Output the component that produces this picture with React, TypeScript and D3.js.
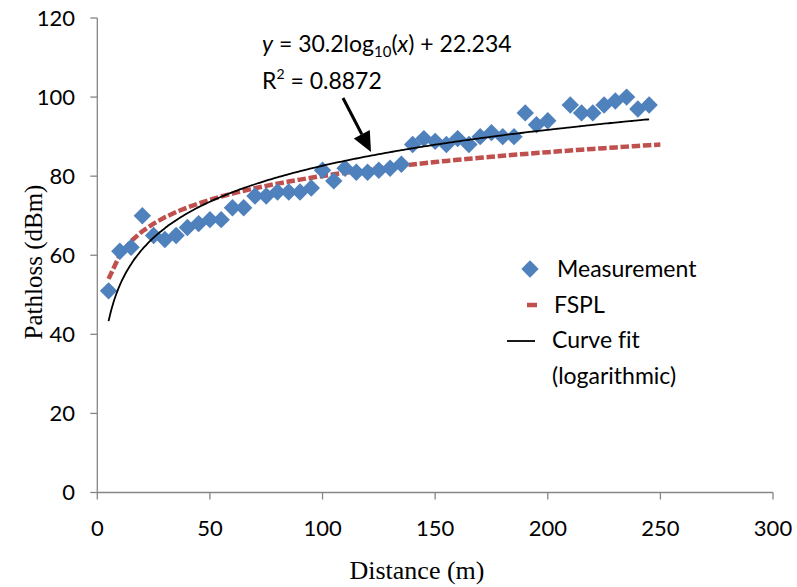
import React from "react";
import * as d3 from "d3";

const distances = [5,10,15,20,25,30,35,40,45,50,55,60,65,70,75,80,85,90,95,100,105,110,115,120,125,130,135,140,145,150,155,160,165,170,175,180,185,190,195,200,210,215,220,225,230,235,240,245];
const measurement = [51,61,62,70,65,64,65,67,68,69,69,72,72,75,75,76,76,76,77,81.5,78.8,82,81,81,81.5,82,83,88,89.5,88.8,88,89.5,88,90,91,90,90,96,93,94,98,96,96,98,99,100,97,98];

const fsplDistances = [5,10,15,20,25,30,35,40,45,50,55,60,65,70,75,80,85,90,95,100,105,110,115,120,125,130,135,140,145,150,155,160,165,170,175,180,185,190,195,200,205,210,215,220,225,230,235,240,245,250];
const fspl = [54.03,60.05,63.57,66.07,68.01,69.59,70.93,72.09,73.11,74.03,74.86,75.61,76.31,76.95,77.55,78.11,78.64,79.13,79.6,80.05,80.47,80.88,81.26,81.63,81.99,82.33,82.66,82.97,83.28,83.57,83.86,84.13,84.4,84.66,84.91,85.16,85.39,85.63,85.85,86.07,86.29,86.49,86.7,86.9,87.09,87.28,87.47,87.65,87.83,88.01];

// Logarithmic trendline shown in the chart: y = 30.2 log10(x) + 22.234
const fitSlope = 30.2;
const fitIntercept = 22.234;
const fitRange = [5, 245];

const xTicks = [0, 50, 100, 150, 200, 250, 300];
const yTicks = [0, 20, 40, 60, 80, 100, 120];

const legendLabels = ["Measurement", "FSPL", "Curve fit", "(logarithmic)"];

export default function App() {
  const W = 797, H = 587;
  const x = d3.scaleLinear().domain([0, 300]).range([97.3, 773]);
  const y = d3.scaleLinear().domain([0, 120]).range([492.5, 18]);
  const axisColor = "#868686";
  const sans = "Lato, 'Open Sans', sans-serif";
  const serif = "'Liberation Serif', 'Times New Roman', serif";

  const fsplLine = d3.line<number>()
    .x((_, i) => x(fsplDistances[i]))
    .y((d) => y(d))(fspl) || "";

  const fitPts: [number, number][] = [];
  for (let d = fitRange[0]; d <= fitRange[1]; d += 1) {
    fitPts.push([d, fitSlope * Math.log10(d) + fitIntercept]);
  }
  const fitLine = d3.line<[number, number]>()
    .x((p) => x(p[0]))
    .y((p) => y(p[1]))
    .curve(d3.curveMonotoneX)(fitPts) || "";

  const diamond = (cx: number, cy: number, r: number) =>
    `M${cx},${cy - r}L${cx + r},${cy}L${cx},${cy + r}L${cx - r},${cy}Z`;

  // arrow
  const ax0 = 343, ay0 = 98, ax1 = 371, ay1 = 152;
  const len = Math.hypot(ax1 - ax0, ay1 - ay0);
  const ux = (ax1 - ax0) / len, uy = (ay1 - ay0) / len;
  const hl = 20, hw = 9;
  const bx = ax1 - ux * hl, by = ay1 - uy * hl;
  const head = `M${ax1},${ay1}L${bx - uy * hw},${by + ux * hw}L${bx + uy * hw},${by - ux * hw}Z`;

  const txt = { fontVariantLigatures: "none" as const };

  return (
    <svg width={W} height={H} style={{ position: "absolute", left: 0, top: 0, background: "#fff" }}>
      {/* axes */}
      <line x1={x(0)} x2={x(0)} y1={y(120)} y2={y(0)} stroke={axisColor} strokeWidth={1.3} />
      <line x1={x(0)} x2={x(300)} y1={y(0)} y2={y(0)} stroke={axisColor} strokeWidth={1.3} />
      {yTicks.map((t) => (
        <g key={"y" + t}>
          <line x1={x(0) - 7} x2={x(0)} y1={y(t)} y2={y(t)} stroke={axisColor} strokeWidth={1.3} />
          <text x={75} y={y(t)} dy="0.36em" textAnchor="end" fontFamily={sans} fontSize={22} fill="#000">{t}</text>
        </g>
      ))}
      {xTicks.map((t) => (
        <g key={"x" + t}>
          <line x1={x(t)} x2={x(t)} y1={y(0)} y2={y(0) + 7} stroke={axisColor} strokeWidth={1.3} />
          <text x={x(t)} y={528} dy="0.36em" textAnchor="middle" fontFamily={sans} fontSize={22} fill="#000">{t}</text>
        </g>
      ))}
      <text x={417} y={570} dy="0.35em" textAnchor="middle" fontFamily={serif} fontSize={26} fill="#000">Distance (m)</text>
      <text transform={`translate(33,262) rotate(-90)`} dy="0.35em" textAnchor="middle" fontFamily={serif} fontSize={25} fill="#000">Pathloss (dBm)</text>

      {/* FSPL */}
      <path d={fsplLine} fill="none" stroke="#C0504D" strokeWidth={4.5} strokeDasharray="8.5 2.7" />
      {/* Measurement */}
      {measurement.map((v, i) => (
        <path key={"m" + i} d={diamond(x(distances[i]), y(v), 8.7)} fill="#4F81BD" />
      ))}
      {/* Curve fit */}
      <path d={fitLine} fill="none" stroke="#000" strokeWidth={1.8} />

      {/* annotation */}
      <text x={262} y={52} fontFamily={sans} fontSize={23} fill="#000" style={txt}>
        <tspan fontStyle="italic">y</tspan> = 30.2log<tspan fontSize={15} dy={5}>10</tspan><tspan dy={-5}>(</tspan><tspan fontStyle="italic">x</tspan>) + 22.234
      </text>
      <text x={262} y={89} fontFamily={sans} fontSize={23} fill="#000">
        R<tspan fontSize={14} dy={-10}>2</tspan><tspan dy={10}> = 0.8872</tspan>
      </text>
      <line x1={ax0} y1={ay0} x2={bx} y2={by} stroke="#000" strokeWidth={3} />
      <path d={head} fill="#000" />

      {/* legend */}
      <path d={diamond(530, 269, 8.7)} fill="#4F81BD" />
      <text x={557} y={269} dy="0.35em" fontFamily={sans} fontSize={23} fill="#000">{legendLabels[0]}</text>
      <line x1={527} x2={537} y1={305} y2={305} stroke="#C0504D" strokeWidth={4.5} />
      <text x={554} y={305} dy="0.35em" fontFamily={sans} fontSize={23} fill="#000">{legendLabels[1]}</text>
      <line x1={507} x2={535} y1={341} y2={341} stroke="#000" strokeWidth={1.8} />
      <text x={552} y={340} dy="0.35em" fontFamily={sans} fontSize={23} fill="#000" style={txt}>{legendLabels[2]}</text>
      <text x={552} y={376} dy="0.35em" fontFamily={sans} fontSize={23} fill="#000">{legendLabels[3]}</text>
    </svg>
  );
}
